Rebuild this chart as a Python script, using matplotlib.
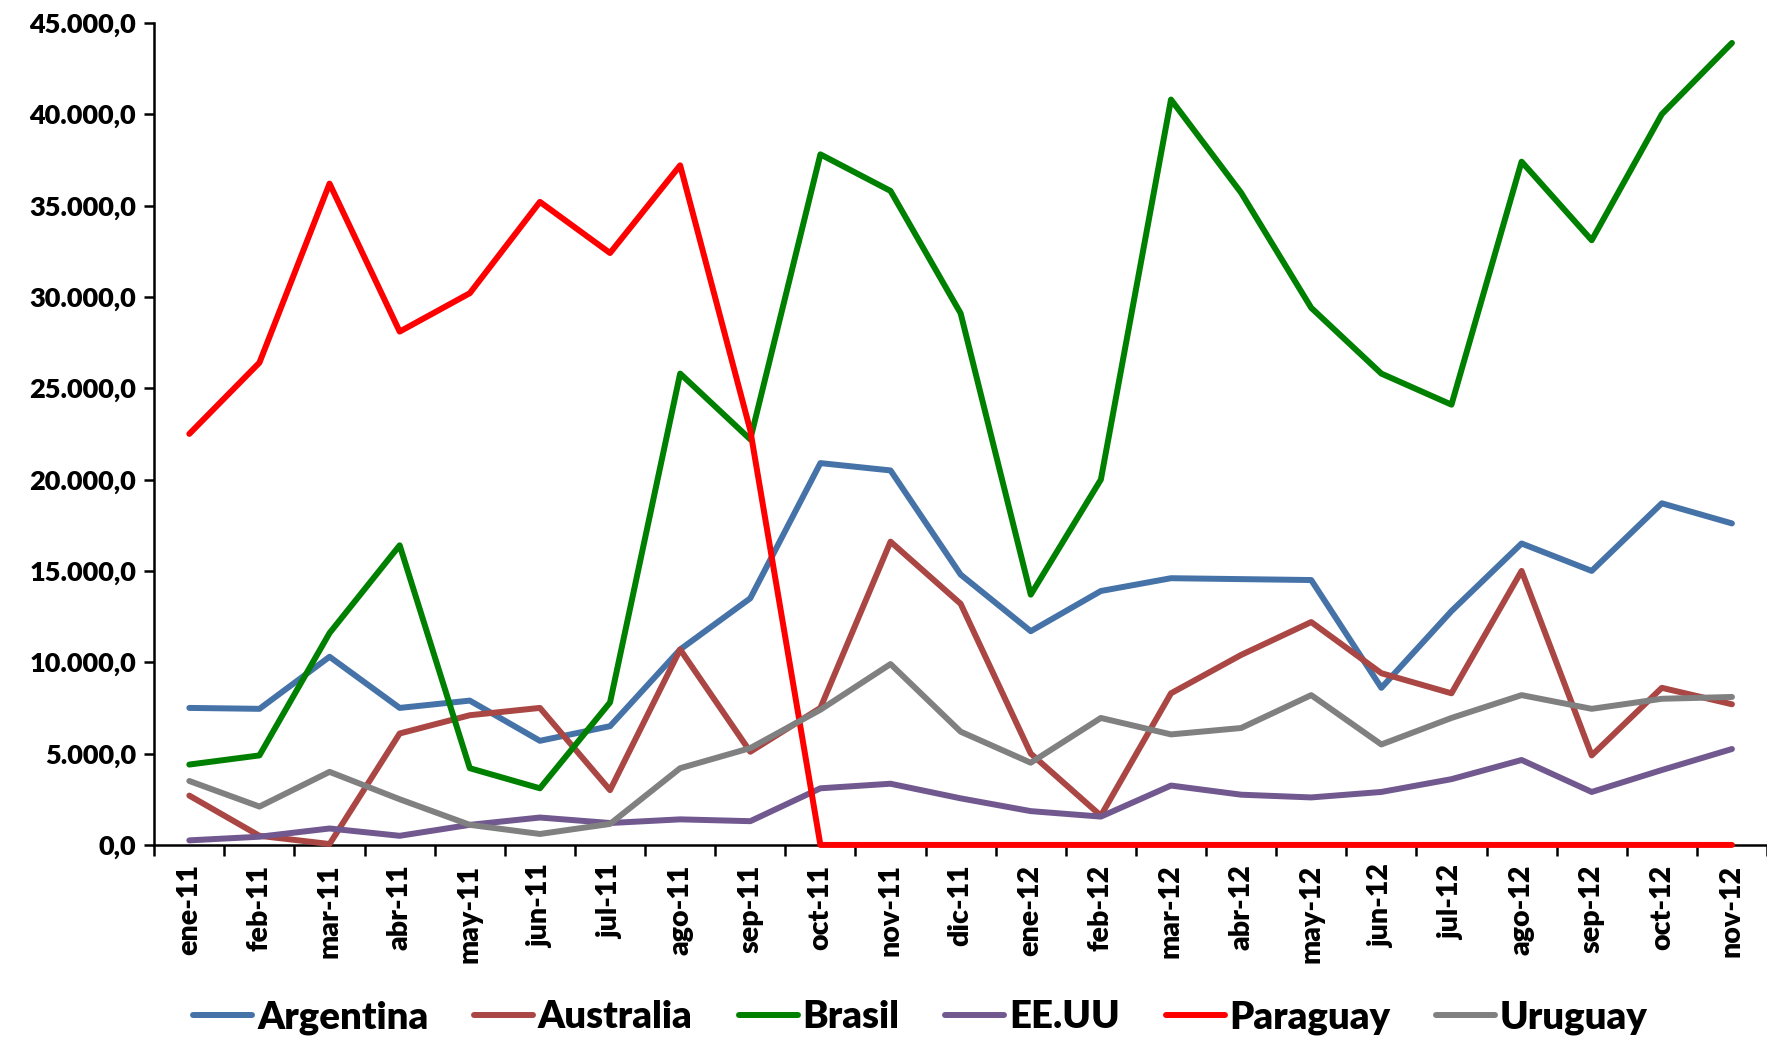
import numpy as np
import matplotlib
matplotlib.use("Agg")
import matplotlib.pyplot as plt
from matplotlib.ticker import FuncFormatter, FixedLocator

# =====================================================
# DATA
# =====================================================

months = ["ene-11", "feb-11", "mar-11", "abr-11", "may-11", "jun-11",
          "jul-11", "ago-11", "sep-11", "oct-11", "nov-11", "dic-11",
          "ene-12", "feb-12", "mar-12", "abr-12", "may-12", "jun-12",
          "jul-12", "ago-12", "sep-12", "oct-12", "nov-12"]

argentina = [7500, 7450, 10300, 7500, 7900, 5700, 6500, 10700, 13500, 20900,
             20500, 14800, 11700, 13900, 14600, 14550, 14500, 8600, 12800,
             16500, 15000, 18700, 17600]

australia = [2700, 500, 50, 6100, 7100, 7500, 3000, 10700, 5100, 7500,
             16600, 13200, 5000, 1600, 8300, 10400, 12200, 9400, 8300,
             15000, 4900, 8600, 7700]

brasil = [4400, 4900, 11600, 16400, 4200, 3100, 7800, 25800, 22200, 37800,
          35800, 29100, 13700, 20000, 40800, 35700, 29400, 25800, 24100,
          37400, 33100, 40000, 43900]

eeuu = [250, 450, 900, 500, 1100, 1500, 1200, 1400, 1300, 3100,
        3350, 2550, 1850, 1550, 3250, 2750, 2600, 2900, 3600,
        4650, 2900, 4100, 5250]

paraguay = [22500, 26400, 36200, 28100, 30200, 35200, 32400, 37200, 22700, 0,
            0, 0, 0, 0, 0, 0, 0, 0, 0,
            0, 0, 0, 0]

uruguay = [3500, 2100, 4000, 2500, 1100, 600, 1150, 4200, 5300, 7400,
           9900, 6200, 4500, 6950, 6050, 6400, 8200, 5500, 6950,
           8200, 7450, 8000, 8100]

series = [
    ("Argentina", argentina, "#4572A7"),
    ("Australia", australia, "#AA4643"),
    ("Brasil", brasil, "#008000"),
    ("EE.UU", eeuu, "#71588F"),
    ("Paraguay", paraguay, "#FF0000"),
    ("Uruguay", uruguay, "#808080"),
]

# =====================================================
# FIGURE
# =====================================================

plt.rcParams["font.family"] = ["Lato", "DejaVu Sans"]
plt.rcParams["font.weight"] = "heavy"

fig = plt.figure(figsize=(17.67, 10.38), dpi=100)
ax = fig.add_axes([0.0873, 0.186, 0.9127, 0.792])

x = np.arange(len(months))

for name, vals, color in series:
    ax.plot(x, vals, color=color, linewidth=4.3, label=name,
            solid_joinstyle="round", solid_capstyle="round",
            clip_on=False, zorder=3)

# =====================================================
# AXES
# =====================================================

ax.set_xlim(-0.5, len(months) - 0.5)
ax.set_ylim(0, 45000)

ax.set_yticks(np.arange(0, 45001, 5000))
ax.yaxis.set_major_formatter(FuncFormatter(
    lambda v, p: f"{v:,.1f}".replace(",", "X").replace(".", ",").replace("X", ".")
))

ax.set_xticks(x)
ax.set_xticklabels(months, rotation=90)
ax.xaxis.set_minor_locator(FixedLocator(np.arange(-0.5, len(months), 1.0)))

ax.tick_params(axis="x", which="major", length=0, pad=14, labelsize=20.5)
ax.tick_params(axis="x", which="minor", length=8, width=1.8, direction="out")
ax.tick_params(axis="y", length=7, width=1.8, direction="out", labelsize=19.5, pad=6)

for lab in ax.get_xticklabels() + ax.get_yticklabels():
    lab.set_fontweight("heavy")

ax.spines["top"].set_visible(False)
ax.spines["right"].set_visible(False)
ax.spines["left"].set_linewidth(1.8)
ax.spines["bottom"].set_linewidth(1.8)

# =====================================================
# LEGEND
# =====================================================

fig.legend(
    loc="lower center",
    bbox_to_anchor=(0.521, -0.03),
    ncol=6,
    frameon=False,
    prop={"size": 27.5, "weight": "heavy"},
    handlelength=1.55,
    handletextpad=0.12,
    columnspacing=1.2,
)

fig.savefig("out.png", dpi=100)
